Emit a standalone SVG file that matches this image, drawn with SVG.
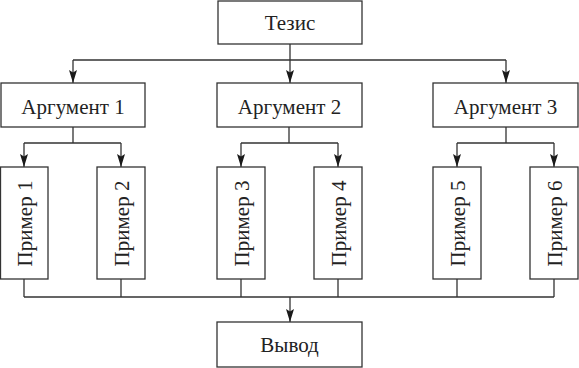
<svg xmlns="http://www.w3.org/2000/svg" width="579" height="368" viewBox="0 0 579 368">
<defs>
<marker id="arr" markerUnits="userSpaceOnUse" markerWidth="14" markerHeight="9" refX="13" refY="4.5" orient="auto">
<path d="M0,0.5 L13,4.5 L0,8.5 L2.5,4.5 z" fill="#1a1a1a"/>
</marker>
<style>
.box{fill:#fff;stroke:#333;stroke-width:1.3}
.lbl{font-family:"Liberation Serif","DejaVu Serif",serif;font-size:21px;fill:#222;text-anchor:middle}
.c{fill:none;stroke:#333;stroke-width:1.3}
.a{marker-end:url(#arr)}
</style>
</defs>
<rect width="579" height="368" fill="#fff"/>
<g id="connectors">
<path class="c" d="M290,44 V60 M73,60 H506"/>
<path class="c a" d="M73,60 V83"/>
<path class="c a" d="M290,60 V83"/>
<path class="c a" d="M506,60 V83"/>
<path class="c" d="M73,127 V143 M24,143 H121"/>
<path class="c a" d="M24,143 V167"/>
<path class="c a" d="M121,143 V167"/>
<path class="c" d="M289,127 V143 M241,143 H338"/>
<path class="c a" d="M241,143 V167"/>
<path class="c a" d="M338,143 V167"/>
<path class="c" d="M506,127 V143 M457,143 H554"/>
<path class="c a" d="M457,143 V167"/>
<path class="c a" d="M554,143 V167"/>
<path class="c" d="M24,279 V297 M121,279 V297 M241,279 V297 M338,279 V297 M457,279 V297 M554,279 V297 M24,297 H554"/>
<path class="c a" d="M290,297 V322"/>
</g>
<g id="thesis"><rect class="box" x="218" y="1" width="144" height="43"/><text class="lbl" x="290" y="30">Тезис</text></g>
<g id="arg1"><rect class="box" x="1" y="83" width="144" height="44"/><text class="lbl" x="73" y="114">Аргумент 1</text></g>
<g id="arg2"><rect class="box" x="217" y="83" width="145" height="44"/><text class="lbl" x="289.5" y="114">Аргумент 2</text></g>
<g id="arg3"><rect class="box" x="433" y="83" width="145" height="44"/><text class="lbl" x="505.5" y="114">Аргумент 3</text></g>
<g id="ex1"><rect class="box" x="0.5" y="167" width="47.5" height="112"/><text class="lbl" transform="translate(32,223.5) rotate(-90)">Пример 1</text></g>
<g id="ex2"><rect class="box" x="97" y="167" width="48" height="112"/><text class="lbl" transform="translate(129,223.5) rotate(-90)">Пример 2</text></g>
<g id="ex3"><rect class="box" x="217" y="167" width="48" height="112"/><text class="lbl" transform="translate(249,223.5) rotate(-90)">Пример 3</text></g>
<g id="ex4"><rect class="box" x="314" y="167" width="48" height="112"/><text class="lbl" transform="translate(346,223.5) rotate(-90)">Пример 4</text></g>
<g id="ex5"><rect class="box" x="433" y="167" width="48" height="112"/><text class="lbl" transform="translate(465,223.5) rotate(-90)">Пример 5</text></g>
<g id="ex6"><rect class="box" x="530" y="167" width="48" height="112"/><text class="lbl" transform="translate(562,223.5) rotate(-90)">Пример 6</text></g>
<g id="conclusion"><rect class="box" x="217" y="322" width="145" height="45"/><text class="lbl" x="289.5" y="352">Вывод</text></g>
</svg>
